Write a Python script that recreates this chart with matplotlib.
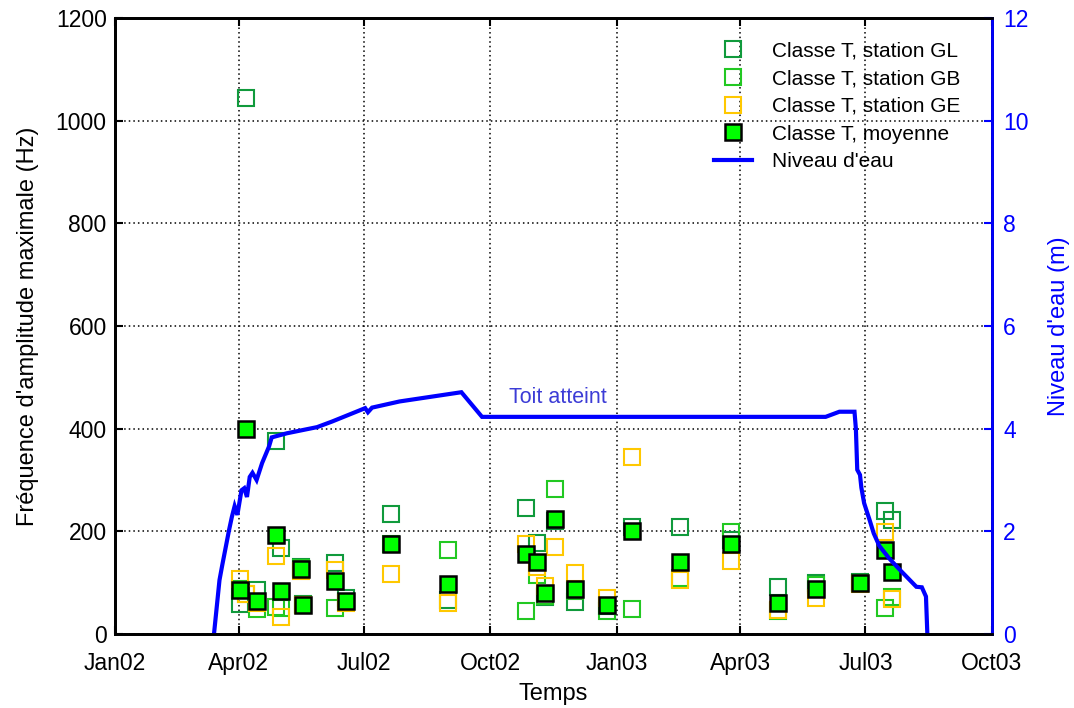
import matplotlib
matplotlib.use("Agg")
import matplotlib.pyplot as plt
import matplotlib.dates as mdates
import numpy as np
import pandas as pd

plt.rcParams['font.family'] = ['Liberation Sans', 'DejaVu Sans']

# Event dates and maximum-amplitude frequency (Hz) per station
event_dates = ["2002-04-02", "2002-04-06", "2002-04-14", "2002-04-28", "2002-05-02",
               "2002-05-16", "2002-05-18", "2002-06-10", "2002-06-18", "2002-07-21",
               "2002-08-31", "2002-10-27", "2002-11-04", "2002-11-10", "2002-11-17",
               "2002-12-02", "2002-12-25", "2003-01-12", "2003-02-16", "2003-03-25",
               "2003-04-28", "2003-05-26", "2003-06-27", "2003-07-15", "2003-07-20"]
freq_gl = [58, 1045, 86, 376, 167, 130, 58, 138, 70, 233, 66, 245, 177, 72, 220,
           62, 55, 208, 209, 183, 92, 100, 102, 240, 222]
freq_gb = [88, 78, 48, 52, 51, 128, 56, 50, 62, 176, 164, 45, 115, 75, 282,
           83, 45, 48, 110, 199, 44, 95, 99, 50, 73]
freq_ge = [108, 77, 60, 151, 34, 122, 57, 125, 60, 116, 61, 175, 131, 93, 170,
           119, 70, 345, 105, 143, 47, 70, 98, 199, 68]
freq_mean = [85, 400, 65, 193, 84, 127, 57, 104, 64, 175, 97, 155, 141, 80, 224,
             88, 57, 200, 141, 175, 61, 88, 100, 163, 121]

# Water level in the reservoir (m)
level_dates = ["2002-03-14", "2002-03-18", "2002-03-20", "2002-03-25", "2002-03-27",
               "2002-03-29", "2002-03-31", "2002-04-03", "2002-04-05", "2002-04-07",
               "2002-04-09", "2002-04-11", "2002-04-14", "2002-04-18", "2002-04-23",
               "2002-04-25", "2002-05-06", "2002-05-28", "2002-06-08", "2002-07-02",
               "2002-07-04", "2002-07-07", "2002-07-27", "2002-09-10", "2002-09-25",
               "2003-06-02", "2003-06-12", "2003-06-23", "2003-06-24", "2003-06-25",
               "2003-06-27", "2003-06-28", "2003-06-30", "2003-07-04", "2003-07-07",
               "2003-07-11", "2003-07-18", "2003-07-26", "2003-08-07", "2003-08-11",
               "2003-08-14", "2003-08-15"]
level_m = [0.0, 1.05, 1.34, 2.03, 2.28, 2.49, 2.32, 2.80, 2.84, 2.67,
           3.06, 3.14, 3.00, 3.33, 3.65, 3.83, 3.91, 4.03, 4.14, 4.40,
           4.32, 4.41, 4.53, 4.71, 4.23, 4.23, 4.33, 4.33, 4.00, 3.20,
           3.10, 2.85, 2.55, 2.22, 1.96, 1.72, 1.48, 1.25, 0.92, 0.91,
           0.73, 0.0]

roof_label_date = "2002-11-19"
roof_label_level = 4.6

x_ticks = ["2002-01-01", "2002-04-01", "2002-07-01", "2002-10-01",
           "2003-01-01", "2003-04-01", "2003-07-01", "2003-10-01"]

ev = pd.to_datetime(event_dates)
lv = pd.to_datetime(level_dates)

c_gl = "#109a3c"
c_gb = "#22c822"
c_ge = "#ffc800"
c_water = "#0000ff"

fig = plt.figure(figsize=(10.74, 7.08), dpi=100)
ax1 = fig.add_axes([0.1071, 0.1045, 0.8165, 0.8701])
ax2 = ax1.twinx()

ms = 12
h_gl, = ax1.plot(ev, freq_gl, ls='none', marker='s', ms=ms, mfc='none', mec=c_gl, mew=1.5)
h_gb, = ax1.plot(ev, freq_gb, ls='none', marker='s', ms=ms, mfc='none', mec=c_gb, mew=1.5)
h_ge, = ax1.plot(ev, freq_ge, ls='none', marker='s', ms=ms, mfc='none', mec=c_ge, mew=1.5)
h_mn, = ax1.plot(ev, freq_mean, ls='none', marker='s', ms=ms, mfc='#00ff00', mec='black', mew=1.8)

h_w, = ax2.plot(lv, level_m, color=c_water, lw=3, solid_joinstyle='miter')
ax2.text(pd.Timestamp(roof_label_date), roof_label_level, "Toit atteint",
         color="#3c3cd6", fontsize=15.5, ha='center', va='center')

xmin, xmax = pd.Timestamp(x_ticks[0]), pd.Timestamp(x_ticks[-1])
ax1.set_xlim(xmin, xmax)
ax1.set_ylim(0, 1200)
ax2.set_ylim(0, 12)
ax1.set_xticks(pd.to_datetime(x_ticks))
ax1.xaxis.set_major_formatter(mdates.DateFormatter('%b%y'))
ax1.set_yticks(np.arange(0, 1201, 200))
ax2.set_yticks(np.arange(0, 13, 2))

ax1.grid(True, color='black', linestyle=(0, (1, 2)), linewidth=1.1)
ax1.tick_params(direction='in', length=6, width=1.5, labelsize=16.5,
                top=True, right=False, colors='black', pad=6)
ax1.tick_params(axis='x', pad=13)
ax2.tick_params(direction='in', length=6, width=1.5, labelsize=16.5,
                colors=c_water, pad=8)

for sp in ax1.spines.values():
    sp.set_linewidth(2)
for sp in ax2.spines.values():
    sp.set_linewidth(2)
ax2.spines['right'].set_color(c_water)

ax1.set_xlabel("Temps", fontsize=17, labelpad=6)
ax1.set_ylabel("Fréquence d'amplitude maximale (Hz)", fontsize=17, labelpad=12)
ax2.set_ylabel("Niveau d'eau (m)", fontsize=17, color=c_water, labelpad=14)

leg = ax2.legend([h_gl, h_gb, h_ge, h_mn, h_w],
                 ["Classe T, station GL", "Classe T, station GB", "Classe T, station GE",
                  "Classe T, moyenne", "Niveau d'eau"],
                 loc='upper right', bbox_to_anchor=(0.912, 0.968),
                 bbox_transform=fig.transFigure, frameon=False, fontsize=15,
                 labelspacing=0.42, handlelength=1.8, handletextpad=1.0)

fig.savefig("out.png", dpi=100)
